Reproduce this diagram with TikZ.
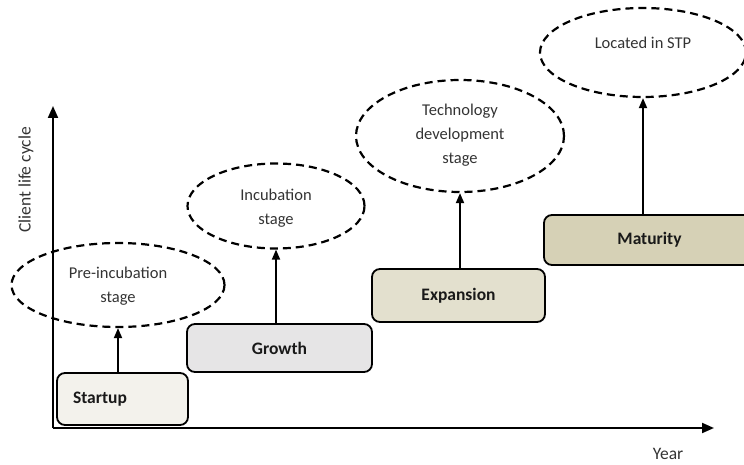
\documentclass[tikz,border=0pt]{standalone}
\usepackage{fontspec}
\setmainfont{Carlito}
\usetikzlibrary{shapes.geometric,arrows.meta}
\definecolor{startupfill}{HTML}{F3F2EC}
\definecolor{growthfill}{HTML}{E6E5E6}
\definecolor{expansionfill}{HTML}{E3E0CE}
\definecolor{maturityfill}{HTML}{D6D1B6}
\definecolor{softtext}{HTML}{333333}
\tikzset{
  stagebox/.style={draw=black, line width=1.8pt, rounded corners=8pt,
    minimum width=#1, inner sep=0pt,
    font=\fontsize{17.5}{20}\selectfont\bfseries, text=black!90},
  phase/.style={draw=black, line width=2.2pt, dash pattern=on 8pt off 5pt,
    ellipse, inner sep=0pt},
  phasetext/.style={font=\fontsize{16.5}{24}\selectfont, text=softtext, align=center},
  axislabel/.style={font=\fontsize{17.5}{20}\selectfont, text=softtext},
  axis/.style={line width=2pt, -{Triangle[length=12pt,width=10pt]}},
  link/.style={line width=1.8pt, -{Triangle[length=10pt,width=8pt]}}
}
\begin{document}
\begin{tikzpicture}[x=1pt,y=-1pt]
  \useasboundingbox (0,0) rectangle (744,465);
  \clip (0,0) rectangle (744,465);

  % axes
  \coordinate (O) at (53,428);
  \coordinate (ytip) at (53,106);
  \coordinate (xtip) at (714,428);
  \draw[axis] (O) -- (ytip);
  \draw[axis] (O) -- (xtip);
  \node[axislabel] (ylab) at (26,180) [rotate=90] {Client life cycle};
  \node[axislabel, inner sep=1pt] (xlab) at (668,454) {Year};

  % stage boxes
  \node[stagebox=131pt, minimum height=52pt, fill=startupfill,
        text width=99pt, inner xsep=16pt, align=left] (b1) at (122.5,399) {Startup};
  \node[stagebox=185pt, minimum height=48pt, fill=growthfill] (b2) at (279.5,348) {Growth};
  \node[stagebox=173pt, minimum height=53pt, fill=expansionfill] (b3) at (458.5,295.5) {Expansion};
  \node[stagebox=211pt, minimum height=50pt, fill=maturityfill] (b4) at (649.5,240) {Maturity};

  % dashed phase ellipses
  \node[phase, minimum width=213pt, minimum height=84pt] (e1) at (118,285) {};
  \node[phase, minimum width=177pt, minimum height=85pt] (e2) at (276,206) {};
  \node[phase, minimum width=208pt, minimum height=112pt] (e3) at (460,136) {};
  \node[phase, minimum width=206pt, minimum height=89pt] (e4) at (643,52.5) {};

  % phase texts
  \node[phasetext] (t1) at (118,286) {Pre-incubation\\stage};
  \node[phasetext] (t2) at (276,208) {Incubation\\stage};
  \node[phasetext] (t3) at (460,135) {Technology\\development\\stage};
  \node[phasetext] (t4) at (643,43) {Located in STP};

  % connectors from boxes to phases
  \draw[link] (b1.north -| e1.south) -- (e1.south);
  \draw[link] (b2.north -| e2.south) -- (e2.south);
  \draw[link] (b3.north -| e3.south) -- (e3.south);
  \draw[link] (b4.north -| e4.south) -- (e4.south);
\end{tikzpicture}
\end{document}
